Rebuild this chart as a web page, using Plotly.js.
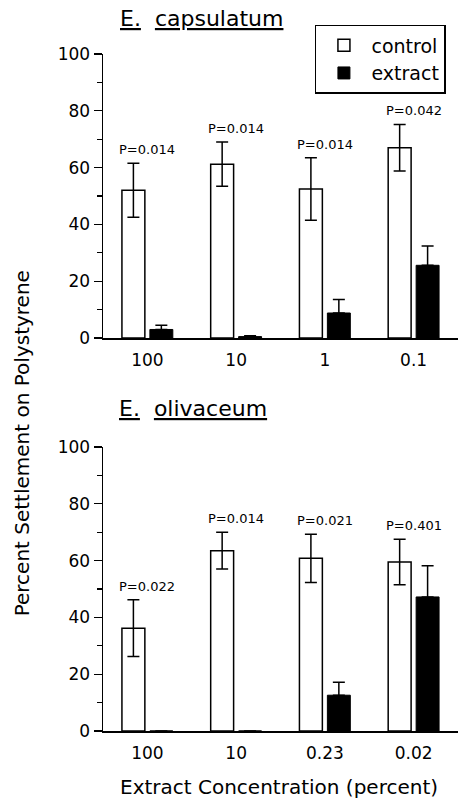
<!DOCTYPE html>
<html>
<head>
<meta charset="utf-8">
<script src="https://cdn.plot.ly/plotly-3.0.1.min.js"></script>
<style>html,body{margin:0;padding:0;background:#fff;}#chart{width:458px;height:803px;}</style>
</head>
<body>
<div id="chart"></div>
<script>
// ---- data ----
const capsCategories = ["100", "10", "1", "0.1"];
const capsControl = [52, 61.2, 52.5, 67];
const capsControlErr = [9.5, 7.8, 11, 8.2];
const capsExtract = [3, 0.5, 8.8, 25.6];
const capsExtractErr = [1.5, 0.3, 4.8, 6.8];
const capsP = ["P=0.014", "P=0.014", "P=0.014", "P=0.042"];

const oliCategories = ["100", "10", "0.23", "0.02"];
const oliControl = [36.2, 63.5, 60.8, 59.5];
const oliControlErr = [10, 6.5, 8.5, 8];
const oliExtract = [0, 0, 12.6, 47.2];
const oliExtractErr = [0, 0, 4.6, 11];
const oliP = ["P=0.022", "P=0.014", "P=0.021", "P=0.401"];

const FONT = "DejaVu Sans";
const groupIdx = [0, 1, 2, 3];

function ctrlTrace(vals, errs, xa, ya, show) {
  return {
    type: "bar", name: "control", x: groupIdx, y: vals, xaxis: xa, yaxis: ya,
    showlegend: show, legendgroup: "control",
    marker: {color: "#ffffff", line: {color: "#000000", width: 1.5}},
    error_y: {type: "data", array: errs, visible: true, color: "#000000", thickness: 1.5, width: 6},
    hoverinfo: "skip"
  };
}
function extTrace(vals, errs, xa, ya, show) {
  return {
    type: "bar", name: "extract", x: groupIdx, y: vals, xaxis: xa, yaxis: ya,
    showlegend: show, legendgroup: "extract",
    marker: {color: "#000000", line: {color: "#000000", width: 1}},
    error_y: {type: "data", symmetric: false, array: errs, arrayminus: errs.map(() => 0),
              visible: true, color: "#000000", thickness: 1.5, width: 6},
    hoverinfo: "skip"
  };
}

const data = [
  ctrlTrace(capsControl, capsControlErr, "x", "y", true),
  extTrace(capsExtract, capsExtractErr, "x", "y", true),
  ctrlTrace(oliControl, oliControlErr, "x2", "y2", false),
  extTrace(oliExtract, oliExtractErr, "x2", "y2", false)
];

const annotations = [];
function pLabels(labels, ctrl, err, xr, yr) {
  labels.forEach((t, i) => {
    annotations.push({
      text: t, x: groupIdx[i], y: ctrl[i] + err[i], xref: xr, yref: yr,
      yanchor: "bottom", xanchor: "center", yshift: 4, showarrow: false,
      font: {family: FONT, size: 13, color: "#000"}
    });
  });
}
pLabels(capsP, capsControl, capsControlErr, "x", "y");
pLabels(oliP, oliControl, oliControlErr, "x2", "y2");

annotations.push(
  {text: "<u>E.</u>  <u>capsulatum</u>", xref: "paper", yref: "paper", x: 0.042, y: 1.053,
   xanchor: "left", yanchor: "middle", showarrow: false, font: {family: FONT, size: 22, color: "#000"}},
  {text: "<u>E.</u>  <u>olivaceum</u>", xref: "paper", yref: "paper", x: 0.039, y: 0.477,
   xanchor: "left", yanchor: "middle", showarrow: false, font: {family: FONT, size: 22, color: "#000"}},
  {text: "Percent Settlement on Polystyrene", xref: "paper", yref: "paper", x: -0.228, y: 0.425,
   textangle: -90, xanchor: "center", yanchor: "middle", showarrow: false,
   font: {family: FONT, size: 20, color: "#000"}},
  {text: "Extract Concentration (percent)", xref: "paper", yref: "paper", x: 0.496, y: -0.083,
   xanchor: "center", yanchor: "middle", showarrow: false,
   font: {family: FONT, size: 20, color: "#000"}}
);

function xAxis(cats, anchor) {
  return {
    anchor: anchor, domain: [0, 1], range: [-0.5, 3.5],
    tickmode: "array", tickvals: groupIdx, ticktext: cats,
    showline: true, linecolor: "#000", linewidth: 1.5, mirror: false,
    ticks: "", ticklabelstandoff: 6, showgrid: false, zeroline: false,
    tickfont: {family: FONT, size: 17, color: "#000"}
  };
}
function yAxis(domain, anchor) {
  return {
    anchor: anchor, domain: domain, range: [0, 100], dtick: 20, tick0: 0,
    showline: true, linecolor: "#000", linewidth: 1.5,
    ticks: "outside", ticklen: 8, tickwidth: 1.2, tickcolor: "#000",
    minor: {dtick: 10, ticks: "outside", ticklen: 5, tickwidth: 1.2, tickcolor: "#000", showgrid: false},
    showgrid: false, zeroline: false,
    tickfont: {family: FONT, size: 17, color: "#000"}
  };
}

const layout = {
  width: 458, height: 803,
  margin: {l: 103, r: 0, t: 54, b: 72},
  paper_bgcolor: "#fff", plot_bgcolor: "#fff",
  barmode: "group", bargap: 0.37, bargroupgap: 0.18,
  font: {family: FONT, color: "#000"},
  xaxis: xAxis(capsCategories, "y"),
  yaxis: yAxis([0.5805, 1], "x"),
  xaxis2: xAxis(oliCategories, "y2"),
  yaxis2: yAxis([0, 0.4195], "x2"),
  legend: {
    x: 0.597, y: 1.043, xanchor: "left", yanchor: "top",
    bgcolor: "#fff", bordercolor: "#000", borderwidth: 1.5,
    font: {family: FONT, size: 19, color: "#000"},
    itemwidth: 45, traceorder: "normal"
  },
  annotations: annotations
};

Plotly.newPlot("chart", data, layout, {staticPlot: true, displayModeBar: false});
</script>
</body>
</html>
